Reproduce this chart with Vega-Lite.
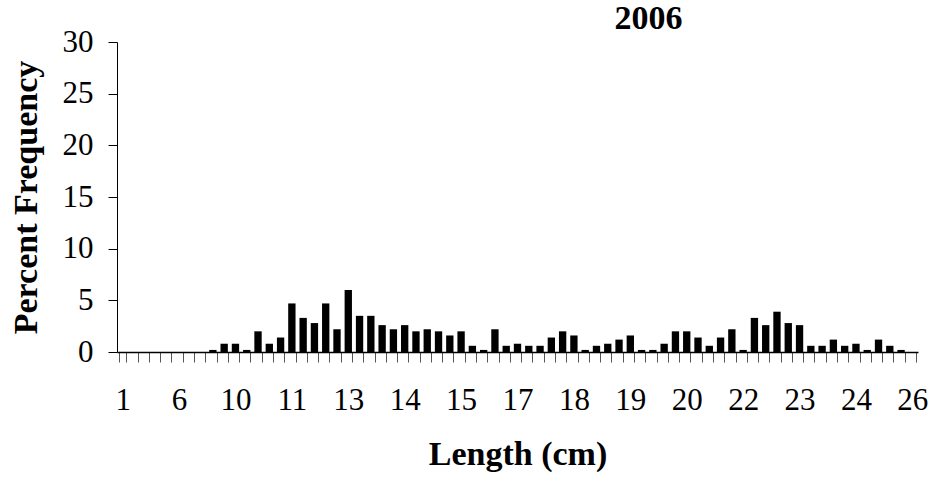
{
  "$schema": "https://vega.github.io/schema/vega-lite/v6.json",
  "autosize": "none",
  "width": 801,
  "height": 310,
  "padding": {"left": 117, "top": 42, "right": 14, "bottom": 131},
  "background": "white",
  "title": {
    "text": "2006",
    "font": "Liberation Serif",
    "fontSize": 34,
    "fontWeight": "bold",
    "color": "black",
    "anchor": "middle",
    "frame": "group",
    "dx": 131,
    "baseline": "bottom",
    "offset": -44
  },
  "data": {
    "values": [
      {"bin": 0, "pct": 0}, {"bin": 1, "pct": 0}, {"bin": 2, "pct": 0}, {"bin": 3, "pct": 0},
      {"bin": 4, "pct": 0}, {"bin": 5, "pct": 0}, {"bin": 6, "pct": 0}, {"bin": 7, "pct": 0},
      {"bin": 8, "pct": 0.2}, {"bin": 9, "pct": 0.8}, {"bin": 10, "pct": 0.8}, {"bin": 11, "pct": 0.2},
      {"bin": 12, "pct": 2.0}, {"bin": 13, "pct": 0.8}, {"bin": 14, "pct": 1.4}, {"bin": 15, "pct": 4.7},
      {"bin": 16, "pct": 3.3}, {"bin": 17, "pct": 2.8}, {"bin": 18, "pct": 4.7}, {"bin": 19, "pct": 2.2},
      {"bin": 20, "pct": 6.0}, {"bin": 21, "pct": 3.5}, {"bin": 22, "pct": 3.5}, {"bin": 23, "pct": 2.6},
      {"bin": 24, "pct": 2.2}, {"bin": 25, "pct": 2.6}, {"bin": 26, "pct": 2.0}, {"bin": 27, "pct": 2.2},
      {"bin": 28, "pct": 2.0}, {"bin": 29, "pct": 1.6}, {"bin": 30, "pct": 2.0}, {"bin": 31, "pct": 0.6},
      {"bin": 32, "pct": 0.2}, {"bin": 33, "pct": 2.2}, {"bin": 34, "pct": 0.6}, {"bin": 35, "pct": 0.8},
      {"bin": 36, "pct": 0.6}, {"bin": 37, "pct": 0.6}, {"bin": 38, "pct": 1.4}, {"bin": 39, "pct": 2.0},
      {"bin": 40, "pct": 1.6}, {"bin": 41, "pct": 0.2}, {"bin": 42, "pct": 0.6}, {"bin": 43, "pct": 0.8},
      {"bin": 44, "pct": 1.2}, {"bin": 45, "pct": 1.6}, {"bin": 46, "pct": 0.2}, {"bin": 47, "pct": 0.2},
      {"bin": 48, "pct": 0.8}, {"bin": 49, "pct": 2.0}, {"bin": 50, "pct": 2.0}, {"bin": 51, "pct": 1.4},
      {"bin": 52, "pct": 0.6}, {"bin": 53, "pct": 1.4}, {"bin": 54, "pct": 2.2}, {"bin": 55, "pct": 0.2},
      {"bin": 56, "pct": 3.3}, {"bin": 57, "pct": 2.6}, {"bin": 58, "pct": 3.9}, {"bin": 59, "pct": 2.8},
      {"bin": 60, "pct": 2.6}, {"bin": 61, "pct": 0.6}, {"bin": 62, "pct": 0.6}, {"bin": 63, "pct": 1.2},
      {"bin": 64, "pct": 0.6}, {"bin": 65, "pct": 0.8}, {"bin": 66, "pct": 0.2}, {"bin": 67, "pct": 1.2},
      {"bin": 68, "pct": 0.6}, {"bin": 69, "pct": 0.2}, {"bin": 70, "pct": 0}
    ]
  },
  "mark": {"type": "bar", "color": "black"},
  "encoding": {
    "x": {
      "field": "bin",
      "type": "ordinal",
      "sort": "ascending",
      "scale": {"paddingInner": 0.35, "paddingOuter": 0.175},
      "axis": {
        "title": "Length (cm)",
        "titleFont": "Liberation Serif",
        "titleFontSize": 34,
        "titleFontWeight": "bold",
        "titleColor": "black",
        "titlePadding": 22,
        "labelAngle": 0,
        "labelFont": "Liberation Serif",
        "labelFontSize": 31,
        "labelColor": "black",
        "labelPadding": 23,
        "labelOverlap": false,
        "labelExpr": "datum.value % 5 == 0 ? ['1','6','10','11','13','14','15','17','18','19','20','22','23','24','26'][datum.value / 5] : ''",
        "tickBand": "extent",
        "tickSize": 10,
        "tickColor": "#555555",
        "domainColor": "black",
        "domainWidth": 1.5
      }
    },
    "y": {
      "field": "pct",
      "type": "quantitative",
      "scale": {"domain": [0, 30], "nice": false},
      "axis": {
        "title": "Percent Frequency",
        "titleFont": "Liberation Serif",
        "titleFontSize": 34,
        "titleFontWeight": "bold",
        "titleColor": "black",
        "titlePadding": 19,
        "values": [0, 5, 10, 15, 20, 25, 30],
        "grid": false,
        "labelFont": "Liberation Serif",
        "labelFontSize": 31,
        "labelColor": "black",
        "labelPadding": 15,
        "tickSize": 9,
        "tickColor": "black",
        "domainColor": "black"
      }
    }
  },
  "config": {"view": {"stroke": null}}
}
